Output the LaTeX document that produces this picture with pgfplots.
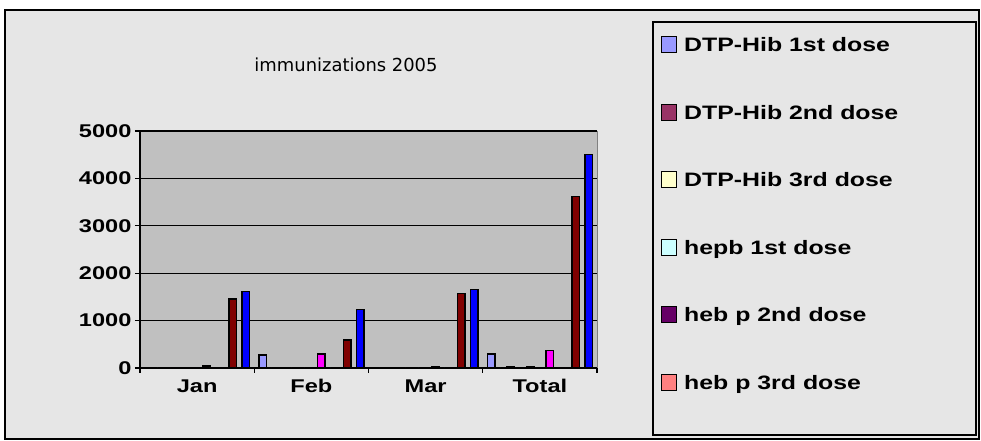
\documentclass[border=0pt]{standalone}
\usepackage{fontspec}
\usepackage{pgfplots}
\pgfplotsset{compat=1.18}
\usetikzlibrary{backgrounds}
\newfontfamily\lab{Liberation Sans}[FakeStretch=1.28]
\newfontfamily\ttl{DejaVu Sans}
\definecolor{c1}{HTML}{9999FF}
\definecolor{c2}{HTML}{993366}
\definecolor{c3}{HTML}{FFFFCC}
\definecolor{c4}{HTML}{CCFFFF}
\definecolor{c5}{HTML}{660066}
\definecolor{c6}{HTML}{FF8080}
\definecolor{c7}{HTML}{0066CC}
\definecolor{c8}{HTML}{CCCCFF}
\definecolor{c9}{HTML}{000080}
\definecolor{c10}{HTML}{FF00FF}
\definecolor{c11}{HTML}{FFFF00}
\definecolor{c12}{HTML}{00FFFF}
\definecolor{c13}{HTML}{800080}
\definecolor{c14}{HTML}{800000}
\definecolor{c15}{HTML}{008080}
\definecolor{c16}{HTML}{0000FF}
\definecolor{plotgray}{HTML}{C0C0C0}
\definecolor{marble}{HTML}{E6E6E6}
\begin{document}
\begin{tikzpicture}
\begin{axis}[
  name=ax, scale only axis,
  width=457bp, height=237bp,
  ybar=-0.8bp, bar width=7.3bp,
  xmin=-0.5, xmax=3.5, ymin=0, ymax=5000,
  xtick={0,1,2,3}, xticklabels={Jan,Feb,Mar,Total},
  major x tick style={draw=none},
  minor xtick={-0.5,0.5,1.5,2.5,3.5},
  ytick={0,1000,2000,3000,4000,5000},
  ymajorgrids, major grid style={black, line width=1.2bp},
  tick align=outside,
  axis x line*=bottom, axis y line*=left,
  axis line style={black, line width=1.5bp, -},
  axis background/.style={fill=plotgray, draw=gray},
  tick style={black, line width=1.2bp},
  major tick length=5bp, minor tick length=5bp,
  scaled y ticks=false,
  /pgf/number format/assume math mode=true,
  /pgf/number format/1000 sep={},
  tick label style={font=\lab\bfseries\fontsize{18.5}{20}\selectfont},
  xticklabel style={yshift=-3bp},
  clip=false,
  every axis plot/.append style={draw=black, line width=1.5bp},
  legend image code/.code={\draw[#1, draw=black, line width=1bp] (0bp,-6bp) rectangle (15bp,10bp);},
  legend cell align=left,
  legend style={at={(1.140,1.4008)}, anchor=north west, draw=none, fill=none,
    inner sep=0pt, row sep=48bp, column sep=7bp,
    font=\lab\bfseries\fontsize{19.5}{21}\selectfont,
    nodes={inner sep=0pt, text height=14bp, text depth=4bp}},
]
\addplot[fill=c1]  coordinates {(0,10) (1,270) (2,15) (3,295)};
\addplot[fill=c2]  coordinates {(0,0) (1,0) (2,0) (3,0)};
\addplot[fill=c3]  coordinates {(0,0) (1,0) (2,0) (3,0)};
\addplot[fill=c4]  coordinates {(0,8) (1,8) (2,8) (3,25)};
\addplot[fill=c5]  coordinates {(0,0) (1,0) (2,0) (3,0)};
\addplot[fill=c6]  coordinates {(0,0) (1,0) (2,0) (3,0)};
\addplot[fill=c7]  coordinates {(0,10) (1,10) (2,10) (3,30)};
\addplot[fill=c8]  coordinates {(0,0) (1,0) (2,0) (3,0)};
\addplot[fill=c9]  coordinates {(0,0) (1,0) (2,0) (3,0)};
\addplot[fill=c10] coordinates {(0,45) (1,300) (2,25) (3,370)};
\addplot[fill=c11] coordinates {(0,0) (1,0) (2,0) (3,0)};
\addplot[fill=c12] coordinates {(0,0) (1,0) (2,0) (3,0)};
\addplot[fill=c13] coordinates {(0,0) (1,0) (2,0) (3,0)};
\addplot[fill=c14] coordinates {(0,1460) (1,590) (2,1570) (3,3620)};
\addplot[fill=c15] coordinates {(0,0) (1,0) (2,0) (3,0)};
\addplot[fill=c16] coordinates {(0,1610) (1,1230) (2,1660) (3,4500)};
\legend{DTP-Hib 1st dose, DTP-Hib 2nd dose, DTP-Hib 3rd dose, hepb 1st dose, heb p 2nd dose, heb p 3rd dose}
\end{axis}
\begin{scope}[x=1bp, y=1bp, shift={(ax.south west)}, shift={(-140bp,-73bp)}]
\begin{pgfonlayer}{background}
\fill[white] (0,0) rectangle (981,441);
\fill[marble] (5,2) rectangle (979,431);
\end{pgfonlayer}
\draw[black, line width=1.2bp] (5,2) rectangle (979,431);
\node[font=\ttl\fontsize{18}{20}\selectfont, anchor=base, inner sep=0pt] at (346,369) {immunizations 2005};
\draw[black, line width=1.5bp] (653,6) rectangle (976,419);
\end{scope}
\end{tikzpicture}
\end{document}
